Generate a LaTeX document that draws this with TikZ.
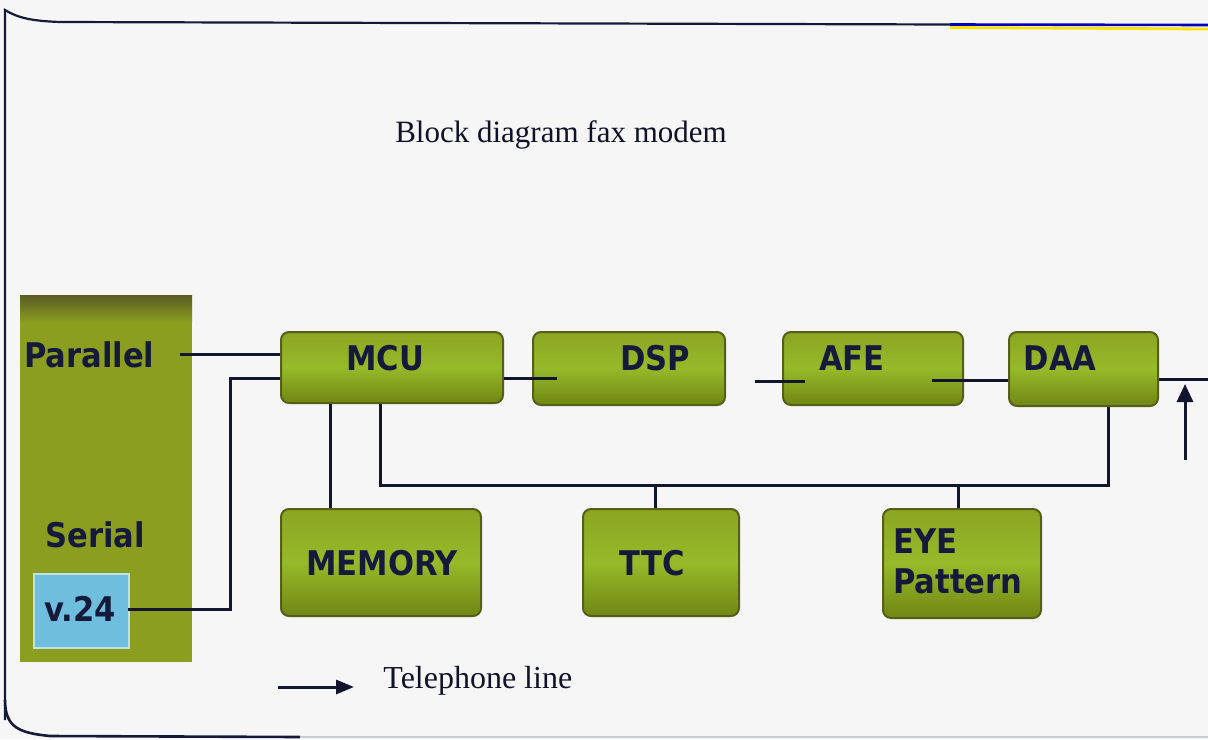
\documentclass[tikz,border=0pt]{standalone}
\usepackage{fontspec}
\setmainfont{Liberation Serif}
\newfontfamily\blockfont[Scale=1]{DejaVu Sans Condensed}
\usetikzlibrary{arrows.meta}
\definecolor{bg}{RGB}{246,246,246}
\definecolor{navy}{RGB}{22,26,58}
\definecolor{gtop}{RGB}{140,165,34}
\definecolor{gmid}{RGB}{150,186,42}
\definecolor{gbot}{RGB}{112,134,20}
\definecolor{gedge}{RGB}{86,94,26}
\definecolor{panelc}{RGB}{140,158,32}
\definecolor{paneltop}{RGB}{88,92,36}
\definecolor{cyanbox}{RGB}{112,190,222}
\definecolor{cyanedge}{RGB}{190,225,235}
\definecolor{framegray}{RGB}{200,205,210}
\tikzset{
  blockbox/.style={rounded corners=4pt, top color=gtop, bottom color=gbot, middle color=gmid, draw=gedge, line width=1pt, inner sep=0pt},
  blocklabel/.style={font=\blockfont\bfseries\fontsize{17}{18}\selectfont, text=navy, inner sep=0pt},
  wire/.style={line width=1.5pt, draw=navy!80!black},
  serif/.style={font=\fontsize{15.5}{17}\selectfont, text=navy!70!black, inner sep=0pt}
}
\begin{document}
\begin{tikzpicture}[x=0.5pt, y=-0.5pt]
\useasboundingbox (0,0) rectangle (1208,739);
\fill[bg] (0,0) rectangle (1208,739);
% frame
\draw[line width=1.1pt, navy] (5,720) -- (5,10) .. controls (18,18) and (32,21) .. (60,22) -- (950,24.5);
\draw[line width=1.4pt, yellow!85!orange] (950,27.5) -- (1208,29);
\draw[line width=1.3pt, blue!75!black] (950,24.5) -- (1208,25);
\draw[line width=1.3pt, navy] (5,700) .. controls (5,728) and (20,733) .. (50,736) -- (300,737);
\draw[line width=1.3pt, framegray] (300,737) -- (1208,737);
% title
\node[serif, anchor=base] (title) at (561,142) {Block diagram fax modem};
% left panel
\node[fill=panelc, minimum width=86pt, minimum height=183.5pt, inner sep=0pt, anchor=north west] (panel) at (20,295) {};
\shade[top color=paneltop, bottom color=panelc] (20,295) rectangle (192,322);
\node[blocklabel, anchor=west] (parallel) at (24,355) {Parallel};
\node[blocklabel] (serial) at (95,535) {Serial};
\node[fill=cyanbox, draw=cyanedge, line width=0.8pt, minimum width=47.5pt, minimum height=37pt, inner sep=0pt, anchor=north west] (v24) at (33,573) {};
\node[blocklabel] (v24t) at (80,609) {v.24};
% blocks
\node[blockbox, minimum width=111pt, minimum height=35.5pt, anchor=north west] (mcu) at (280,331) {};
\node[blocklabel] at (385,358) {MCU};
\node[blockbox, minimum width=96pt, minimum height=36.5pt, anchor=north west] (dsp) at (532,331) {};
\node[blocklabel] at (655,358) {DSP};
\node[blockbox, minimum width=90pt, minimum height=36.5pt, anchor=north west] (afe) at (782,331) {};
\node[blocklabel] at (852,358) {AFE};
\node[blockbox, minimum width=74.5pt, minimum height=37pt, anchor=north west] (daa) at (1008,331) {};
\node[blocklabel] at (1060,358) {DAA};
\node[blockbox, minimum width=100pt, minimum height=53.5pt, anchor=north west] (memory) at (280,508) {};
\node[blocklabel] at (382,563) {MEMORY};
\node[blockbox, minimum width=78pt, minimum height=53.5pt, anchor=north west] (ttc) at (582,508) {};
\node[blocklabel] at (652,563) {TTC};
\node[blockbox, minimum width=79pt, minimum height=54.5pt, anchor=north west] (eye) at (882,508) {};
\node[blocklabel, align=left, anchor=west, font=\blockfont\bfseries\fontsize{17}{20}\selectfont] at (893,561) {EYE\\Pattern};
% connectors
\coordinate (parend) at (180,354);
\coordinate (v24end) at (128,609);
\coordinate (dspin) at (557,378);
\coordinate (afel) at (755,381);
\coordinate (afer) at (805,381);
\coordinate (afeout) at (932,380);
\coordinate (lineout) at (1208,379);
\coordinate (arrbot) at (1185,460);
\coordinate (arrtop) at (1185,384);
\draw[wire] (parend) -- (parend -| mcu.west);
\draw[wire] (v24end) -- (230,609) -- (230,378) -- (mcu.west |- 0,378);
\draw[wire] (mcu.east |- dspin) -- (dspin);
\draw[wire] (afel) -- (afer);
\draw[wire] (afeout) -- (daa.west |- afeout);
\draw[wire] (daa.east |- lineout) -- (lineout);
\draw[wire, -{Triangle[length=9pt,width=8pt]}] (arrbot) -- (arrtop);
\draw[wire] (mcu.south -| 330,0) -- (memory.north -| 330,0);
\draw[wire] (mcu.south -| 380,0) -- (380,485) -- (1108,485) -- (daa.south -| 1108,0);
\draw[wire] (655,485) -- (ttc.north -| 655,0);
\draw[wire] (958,485) -- (eye.north -| 958,0);
% legend
\coordinate (legA) at (278,687);
\coordinate (legB) at (354,687);
\draw[wire, -{Triangle[length=9pt,width=7pt]}] (legA) -- (legB);
\node[serif, font=\fontsize{16}{17}\selectfont, anchor=base west] (legend) at (383,688) {Telephone line};
\end{tikzpicture}
\end{document}
